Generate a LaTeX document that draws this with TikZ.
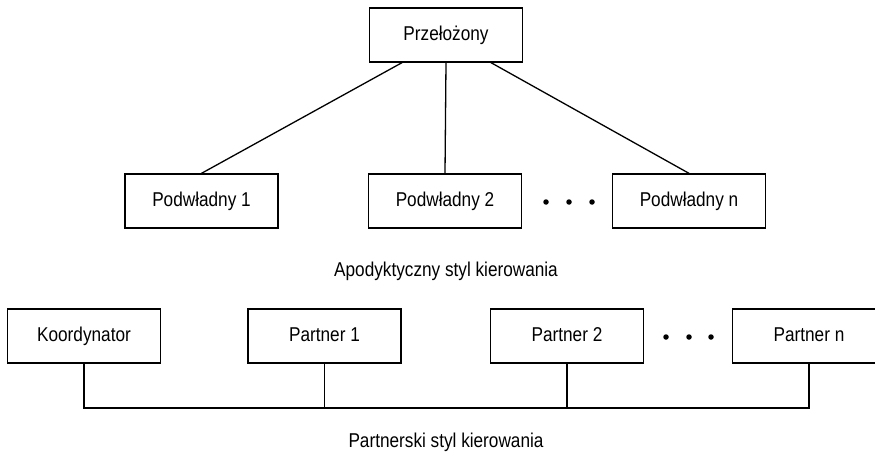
\documentclass[tikz,border=0pt]{standalone}
\usepackage{fontspec}
\setmainfont{Liberation Sans}[FakeStretch=0.86]
\usetikzlibrary{calc}
\begin{document}
\begin{tikzpicture}[x=1pt,y=-1pt,
  box/.style={draw, line width=1.3pt, minimum width=153pt, minimum height=54pt,
    inner sep=0pt, text height=14.6pt, text depth=4.2pt, font=\fontsize{20}{24}\selectfont},
  link/.style={line width=1.3pt},
  thinlink/.style={line width=0.9pt},
  caption/.style={anchor=base, inner sep=0pt, font=\fontsize{20}{24}\selectfont},
  dotmark/.style={circle, fill, inner sep=0pt, minimum size=5.5pt}]
\useasboundingbox (0,0) rectangle (875,455);
\clip (0,0) rectangle (875,455);
% top part
\node[box] (sup) at (446,35) {Przełożony};
\node[box] (p1) at (201.5,201) {Podwładny 1};
\node[box] (p2) at (445,201) {Podwładny 2};
\node[box] (pn) at (689,201) {Podwładny n};
\node[dotmark] (d1) at (546,202) {};
\node[dotmark] (d2) at (569,202) {};
\node[dotmark] (d3) at (592,202) {};
\draw[link] ($(sup.south)+(-44,0)$) -- (p1.north);
\draw[link] (sup.south) -- (p2.north);
\draw[link] ($(sup.south)+(45,0)$) -- (pn.north);
\node[caption] (c1) at (446,276) {Apodyktyczny styl kierowania};
% bottom part
\node[box] (k) at (84,336) {Koordynator};
\node[box] (q1) at (324.5,336) {Partner 1};
\node[box] (q2) at (567,336) {Partner 2};
\node[box] (qn) at (809,336) {Partner n};
\node[dotmark] (e1) at (666,337) {};
\node[dotmark] (e2) at (689,337) {};
\node[dotmark] (e3) at (711,337) {};
\coordinate (bus) at (0,408);
\draw[link] (k.south) -- (k.south |- bus) -- (qn.south |- bus) -- (qn.south);
\draw[thinlink] (q1.south) -- (q1.south |- bus);
\draw[link] (q2.south) -- (q2.south |- bus);
\node[caption] (c2) at (446,447) {Partnerski styl kierowania};
\end{tikzpicture}
\end{document}
